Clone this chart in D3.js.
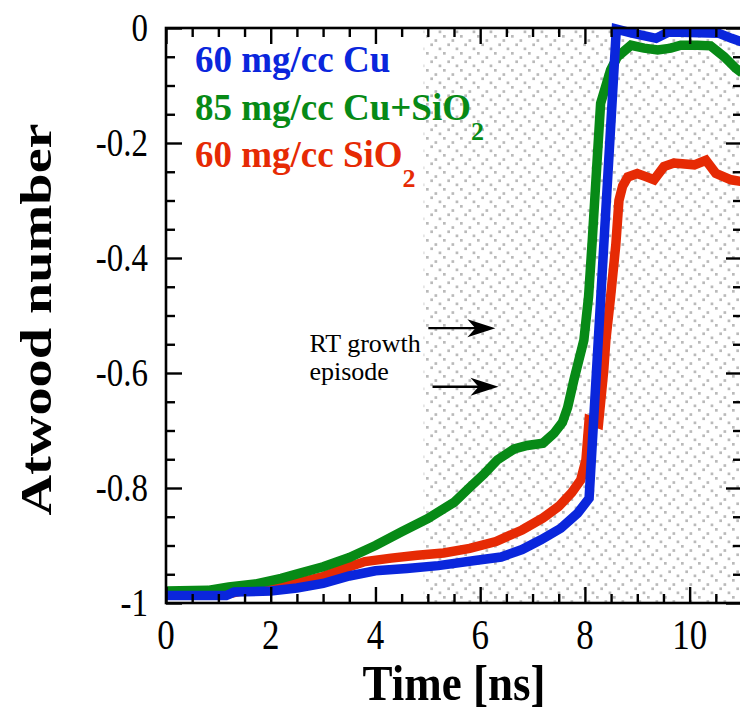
<!DOCTYPE html>
<html>
<head>
<meta charset="utf-8">
<script src="https://cdn.jsdelivr.net/npm/d3@7"></script>
<style>
  html, body { margin: 0; padding: 0; background: #fff; }
  svg { display: block; }
</style>
</head>
<body>
<svg id="chart" width="740" height="718"></svg>
<script>
// ---- data -------------------------------------------------------------
// 60 mg/cc Cu foam
const timeCu = [0, 1.15, 1.3, 2.0, 2.5, 3.0, 3.5, 4.0, 4.6, 5.2, 5.9, 6.4, 6.8, 7.16, 7.54, 7.86, 8.08,
  8.6, 8.9, 9.1, 9.36, 9.6, 10.0, 10.55, 10.8, 11.0];
const atwoodCu = [-0.987, -0.987, -0.981, -0.979, -0.974, -0.966, -0.953, -0.944, -0.940, -0.935, -0.926, -0.920,
  -0.907, -0.890, -0.870, -0.844, -0.818, -0.002, -0.009, -0.013, -0.018, -0.007, -0.008, -0.009, -0.018, -0.024];

// 85 mg/cc Cu+SiO2 foam
const timeCuSiO2 = [0, 0.8, 1.2, 1.7, 2.2, 2.56, 3.0, 3.5, 4.0, 4.5, 5.0, 5.5, 5.8, 6.07, 6.33, 6.65, 6.9, 7.2,
  7.41, 7.57, 7.67, 7.79, 7.98, 8.07, 8.14, 8.22, 8.3, 8.49, 8.62, 8.88, 9.13, 9.39, 9.64, 9.83, 10.15, 10.4,
  10.66, 10.88, 11.0];
const atwoodCuSiO2 = [-0.979, -0.978, -0.972, -0.967, -0.957, -0.948, -0.937, -0.921, -0.900, -0.876, -0.853,
  -0.825, -0.799, -0.776, -0.751, -0.732, -0.726, -0.722, -0.705, -0.686, -0.660, -0.612, -0.543, -0.467,
  -0.370, -0.250, -0.131, -0.073, -0.050, -0.030, -0.035, -0.038, -0.035, -0.030, -0.030, -0.031, -0.050,
  -0.070, -0.078];

// 60 mg/cc SiO2 foam
const timeSiO2 = [0, 1.2, 1.5, 2.0, 2.5, 3.0, 3.4, 3.8, 4.3, 4.8, 5.3, 5.8, 6.3, 6.8, 7.2, 7.5, 7.75, 7.92,
  8.02, 8.08, 8.26, 8.36, 8.4, 8.49, 8.59, 8.65, 8.72, 8.82, 9.0, 9.15, 9.32, 9.51, 9.7, 10.09, 10.31, 10.5,
  10.79, 11.0];
const atwoodSiO2 = [-0.984, -0.984, -0.978, -0.971, -0.965, -0.954, -0.940, -0.928, -0.922, -0.917, -0.913,
  -0.905, -0.893, -0.873, -0.852, -0.832, -0.808, -0.786, -0.751, -0.682, -0.688, -0.595, -0.543, -0.468,
  -0.377, -0.300, -0.275, -0.259, -0.253, -0.258, -0.264, -0.241, -0.235, -0.238, -0.230, -0.253, -0.264,
  -0.267];

const xMajorTicks = [0, 2, 4, 6, 8, 10];
const xTickLabels = ["0", "2", "4", "6", "8", "10"];
const yMajorTicks = [0, -0.2, -0.4, -0.6, -0.8, -1];
const yTickLabels = ["0", "-0.2", "-0.4", "-0.6", "-0.8", "-1"];

// shaded RT growth window starts here (ns)
const rtWindowStart = 4.92;

// ---- layout -----------------------------------------------------------
const svg = d3.select("#chart");
const serif = "'Liberation Serif', 'Times New Roman', Times, serif";
const tall = 1.2;   // tall, narrow lettering used for axis text

const x = d3.scaleLinear().domain([0, 11]).range([166, 742]);
const y = d3.scaleLinear().domain([-1, 0]).range([603, 28]);

const series = [
  { name: "60 mg/cc SiO", sub: "2", t: timeSiO2, a: atwoodSiO2, color: "#e62a04" },
  { name: "85 mg/cc Cu+SiO", sub: "2", t: timeCuSiO2, a: atwoodCuSiO2, color: "#078a16" },
  { name: "60 mg/cc Cu", sub: "", t: timeCu, a: atwoodCu, color: "#0a26dc" }
];

// stipple pattern for the RT growth window
const defs = svg.append("defs");
const pat = defs.append("pattern")
  .attr("id", "stipple")
  .attr("patternUnits", "userSpaceOnUse")
  .attr("width", 17).attr("height", 17);
[[1, 1], [9.5, 5.2], [5.3, 9.4], [13.6, 13.5]].forEach(([px, py]) => {
  pat.append("rect").attr("x", px).attr("y", py)
    .attr("width", 2.7).attr("height", 2.7).attr("fill", "#bababa");
});

svg.append("rect")
  .attr("x", x(rtWindowStart)).attr("y", y(0))
  .attr("width", x(11) - x(rtWindowStart)).attr("height", y(-1) - y(0))
  .attr("fill", "url(#stipple)");

// ---- curves -----------------------------------------------------------
const line = d3.line().x(d => x(d[0])).y(d => y(d[1]));
series.forEach(s => {
  svg.append("path")
    .datum(s.t.map((t, i) => [t, s.a[i]]))
    .attr("d", line)
    .attr("fill", "none")
    .attr("stroke", s.color)
    .attr("stroke-width", 9.5)
    .attr("stroke-linejoin", "miter")
    .attr("stroke-miterlimit", 6);
});

// ---- axes -------------------------------------------------------------
const xMinor = d3.range(0, 11.01, 0.5).filter(v => !xMajorTicks.includes(v));
const yMinor = d3.range(0, 21).map(i => -i * 0.05)
  .filter(v => !yMajorTicks.some(m => Math.abs(m - v) < 1e-9));

function styleAxis(g) {
  g.select(".domain").remove();
  g.selectAll(".tick line").attr("stroke", "#000").attr("stroke-width", 2.4);
}

const tickSets = [
  { make: d3.axisBottom, scale: x, at: `translate(0,${y(-1)})`, ticks: xMajorTicks, len: -16 },
  { make: d3.axisBottom, scale: x, at: `translate(0,${y(-1)})`, ticks: xMinor, len: -9 },
  { make: d3.axisTop, scale: x, at: `translate(0,${y(0)})`, ticks: xMajorTicks, len: -16 },
  { make: d3.axisTop, scale: x, at: `translate(0,${y(0)})`, ticks: xMinor, len: -9 },
  { make: d3.axisLeft, scale: y, at: `translate(${x(0)},0)`, ticks: yMajorTicks, len: -16 },
  { make: d3.axisLeft, scale: y, at: `translate(${x(0)},0)`, ticks: yMinor, len: -9 },
  { make: d3.axisRight, scale: y, at: `translate(${x(11)},0)`, ticks: yMajorTicks, len: -16 },
  { make: d3.axisRight, scale: y, at: `translate(${x(11)},0)`, ticks: yMinor, len: -9 }
];
tickSets.forEach(ts => {
  svg.append("g").attr("transform", ts.at)
    .call(ts.make(ts.scale).tickValues(ts.ticks).tickSize(ts.len).tickFormat(""))
    .call(styleAxis);
});

// tick labels
svg.append("g").selectAll("text").data(xMajorTicks).join("text")
  .attr("transform", d => `translate(${x(d)},649) scale(1,${tall})`)
  .attr("text-anchor", "middle")
  .attr("font-family", serif).attr("font-size", 35).attr("fill", "#000")
  .text((d, i) => xTickLabels[i]);

svg.append("g").selectAll("text").data(yMajorTicks).join("text")
  .attr("transform", d => `translate(148,${y(d)}) scale(1,${tall})`)
  .attr("text-anchor", "end").attr("dy", "0.34em")
  .attr("font-family", serif).attr("font-size", 33).attr("fill", "#000")
  .text((d, i) => yTickLabels[i]);

// frame
svg.append("rect")
  .attr("x", x(0)).attr("y", y(0))
  .attr("width", x(11) - x(0)).attr("height", y(-1) - y(0))
  .attr("fill", "none").attr("stroke", "#000").attr("stroke-width", 2.6);

// axis titles
svg.append("text")
  .attr("transform", `translate(${(x(0) + x(11)) / 2},700) scale(1,1.14)`)
  .attr("text-anchor", "middle")
  .attr("font-family", serif).attr("font-weight", "bold").attr("font-size", 45)
  .text("Time [ns]");

svg.append("text")
  .attr("transform", `translate(51,${(y(0) + y(-1)) / 2 + 4}) scale(1,1.25) rotate(-90)`)
  .attr("text-anchor", "middle")
  .attr("font-family", serif).attr("font-weight", "bold").attr("font-size", 45)
  .text("Atwood number");

// ---- legend -----------------------------------------------------------
const legendRows = [series[2], series[1], series[0]];
legendRows.forEach((s, i) => {
  const t = svg.append("text")
    .attr("x", 195).attr("y", 72 + i * 47.5)
    .attr("font-family", serif).attr("font-weight", "bold").attr("font-size", 37)
    .attr("fill", s.color);
  t.append("tspan").text(s.name);
  if (s.sub) t.append("tspan").attr("dy", 20).attr("font-size", 26).text(s.sub);
});

// ---- annotation -------------------------------------------------------
const note = svg.append("text")
  .attr("font-family", serif).attr("font-size", 26).attr("fill", "#000");
note.append("tspan").attr("x", x(2.74)).attr("y", y(-0.563)).text("RT growth");
note.append("tspan").attr("x", x(2.74)).attr("dy", 28).text("episode");

const arrows = [
  { t0: 5.01, t1: 6.29, a: -0.522 },
  { t0: 5.09, t1: 6.35, a: -0.624 }
];
arrows.forEach(ar => {
  const x0 = x(ar.t0), x1 = x(ar.t1), yy = y(ar.a);
  svg.append("line")
    .attr("x1", x0).attr("y1", yy).attr("x2", x1 - 10).attr("y2", yy)
    .attr("stroke", "#000").attr("stroke-width", 2.4);
  svg.append("path")
    .attr("d", `M${x1},${yy} L${x1 - 28},${yy - 9} L${x1 - 20},${yy} L${x1 - 28},${yy + 9} Z`)
    .attr("fill", "#000");
});
</script>
</body>
</html>
